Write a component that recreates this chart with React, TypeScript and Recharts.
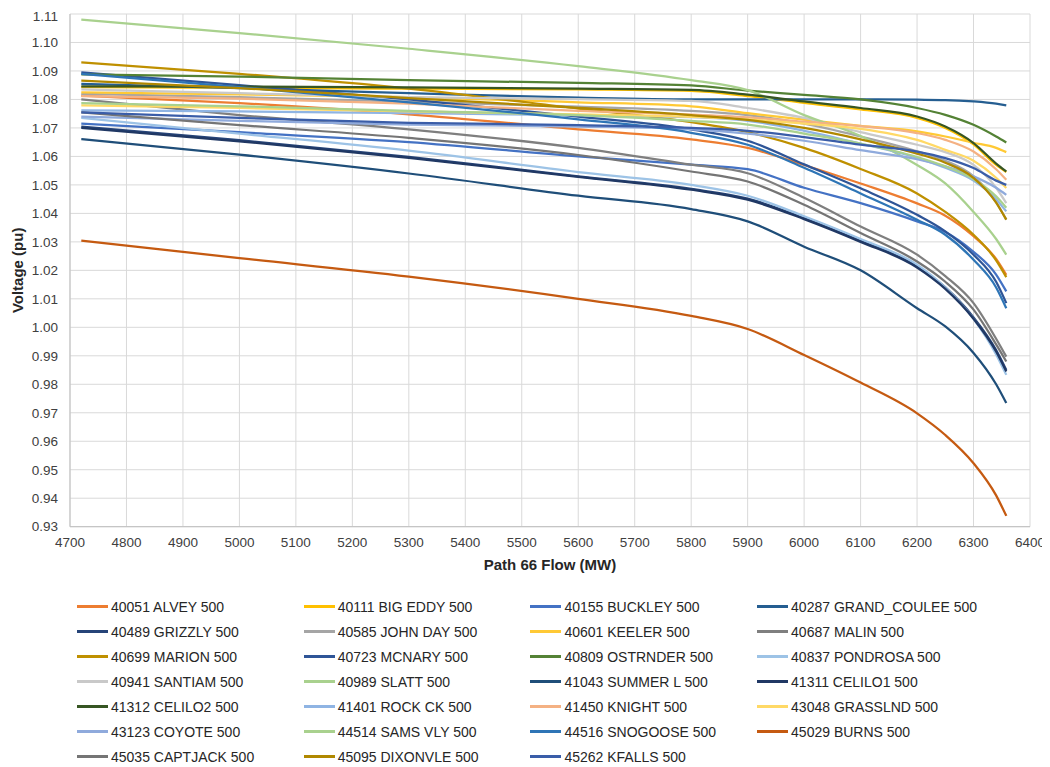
import { LineChart, Line, XAxis, YAxis, CartesianGrid } from 'recharts';

// Path 66 flow (MW) sample points
const flow = [4720, 5000, 5300, 5600, 5800, 5900, 6000, 6100, 6200, 6250, 6300, 6340, 6358];

const xTicks = [4700, 4800, 4900, 5000, 5100, 5200, 5300, 5400, 5500, 5600, 5700, 5800, 5900, 6000, 6100, 6200, 6300, 6400];
const yTicks = [0.93, 0.94, 0.95, 0.96, 0.97, 0.98, 0.99, 1.0, 1.01, 1.02, 1.03, 1.04, 1.05, 1.06, 1.07, 1.08, 1.09, 1.1, 1.11];

// bus voltages (pu)
const alvey = [1.0813, 1.0787, 1.0748, 1.0695, 1.066, 1.063, 1.057, 1.0505, 1.0435, 1.0392, 1.032, 1.024, 1.0184];
const bigEddy = [1.0843, 1.0841, 1.0838, 1.0835, 1.083, 1.0812, 1.0788, 1.0765, 1.0735, 1.07, 1.0642, 1.057, 1.0545];
const buckley = [1.0715, 1.0685, 1.065, 1.06, 1.0571, 1.0555, 1.049, 1.0436, 1.0372, 1.0335, 1.0265, 1.0185, 1.0126];
const grandCoulee = [1.0855, 1.084, 1.0822, 1.0806, 1.08, 1.08, 1.08, 1.08, 1.0799, 1.0798, 1.0793, 1.0785, 1.0779];
const grizzly = [1.0705, 1.0657, 1.0598, 1.053, 1.0486, 1.0452, 1.0384, 1.0304, 1.0214, 1.014, 1.0035, 0.992, 0.985];
const johnDay = [1.082, 1.0808, 1.0792, 1.0775, 1.076, 1.0745, 1.0715, 1.067, 1.0618, 1.0585, 1.053, 1.044, 1.0378];
const keeler = [1.0825, 1.0818, 1.0808, 1.079, 1.0776, 1.0752, 1.0729, 1.0707, 1.0688, 1.067, 1.0648, 1.063, 1.0615];
const malin = [1.08, 1.0745, 1.0695, 1.063, 1.0571, 1.0541, 1.0455, 1.0354, 1.0255, 1.018, 1.0085, 0.996, 0.9897];
const marion = [1.093, 1.089, 1.0838, 1.0768, 1.072, 1.0685, 1.063, 1.0556, 1.047, 1.0405, 1.0325, 1.0235, 1.0176];
const mcnary = [1.0895, 1.085, 1.08, 1.074, 1.0695, 1.0655, 1.0572, 1.0488, 1.0395, 1.0337, 1.0255, 1.016, 1.0085];
const ostrnder = [1.0888, 1.088, 1.0868, 1.0858, 1.0849, 1.0831, 1.0816, 1.08, 1.077, 1.0746, 1.0711, 1.067, 1.0649];
const pondrosa = [1.0735, 1.068, 1.062, 1.0545, 1.05, 1.0462, 1.039, 1.031, 1.022, 1.014, 1.003, 0.9905, 0.9833];
const santiam = [1.0835, 1.0822, 1.0808, 1.0801, 1.0795, 1.077, 1.0735, 1.0685, 1.0641, 1.0615, 1.057, 1.049, 1.0436];
const slatt = [1.108, 1.1033, 1.0978, 1.0917, 1.0868, 1.0833, 1.0745, 1.0672, 1.057, 1.0505, 1.0405, 1.031, 1.0255];
const summerL = [1.0661, 1.0606, 1.054, 1.0462, 1.0415, 1.0372, 1.0283, 1.02, 1.0067, 1.0003, 0.991, 0.98, 0.9734];
const celilo1 = [1.07, 1.0653, 1.0595, 1.0528, 1.0483, 1.0448, 1.038, 1.03, 1.021, 1.0135, 1.003, 0.9915, 0.9845];
const celilo2 = [1.0846, 1.0845, 1.0842, 1.0838, 1.0834, 1.0817, 1.0793, 1.077, 1.074, 1.0705, 1.0647, 1.0575, 1.0547];
const rockCk = [1.0762, 1.0758, 1.0752, 1.0745, 1.0738, 1.0725, 1.069, 1.0645, 1.0595, 1.056, 1.0515, 1.045, 1.0407];
const knight = [1.0812, 1.0803, 1.0785, 1.076, 1.0747, 1.0737, 1.0722, 1.0706, 1.0682, 1.0658, 1.0617, 1.0555, 1.0518];
const grasslnd = [1.0779, 1.077, 1.0758, 1.0748, 1.0739, 1.073, 1.0715, 1.0697, 1.0658, 1.0623, 1.0585, 1.0525, 1.0489];
const coyote = [1.074, 1.0725, 1.0712, 1.0705, 1.0695, 1.068, 1.0655, 1.0622, 1.059, 1.0565, 1.053, 1.049, 1.0465];
const samsVly = [1.0787, 1.0776, 1.076, 1.0745, 1.0725, 1.0712, 1.068, 1.0645, 1.0598, 1.0565, 1.052, 1.046, 1.042];
const snogoose = [1.089, 1.0843, 1.079, 1.073, 1.0683, 1.0641, 1.056, 1.047, 1.0378, 1.0325, 1.0237, 1.014, 1.0067];
const burns = [1.0304, 1.0243, 1.0178, 1.01, 1.004, 0.9994, 0.9903, 0.9806, 0.9698, 0.9622, 0.9523, 0.941, 0.9338];
const captjack = [1.0755, 1.071, 1.0665, 1.0605, 1.0547, 1.0512, 1.043, 1.0331, 1.0231, 1.016, 1.0062, 0.994, 0.988];
const dixonvle = [1.0866, 1.084, 1.0805, 1.077, 1.0745, 1.0728, 1.07, 1.066, 1.061, 1.0578, 1.0525, 1.0438, 1.0378];
const kfalls = [1.0755, 1.0735, 1.0718, 1.071, 1.07, 1.069, 1.0668, 1.0641, 1.0617, 1.0594, 1.0559, 1.0515, 1.05];

const seriesNames = [
  '40051 ALVEY 500', '40111 BIG EDDY 500', '40155 BUCKLEY 500', '40287 GRAND_COULEE 500',
  '40489 GRIZZLY 500', '40585 JOHN DAY 500', '40601 KEELER 500', '40687 MALIN 500',
  '40699 MARION 500', '40723 MCNARY 500', '40809 OSTRNDER 500', '40837 PONDROSA 500',
  '40941 SANTIAM 500', '40989 SLATT 500', '41043 SUMMER L 500', '41311 CELILO1 500',
  '41312 CELILO2 500', '41401 ROCK CK 500', '41450 KNIGHT 500', '43048 GRASSLND 500',
  '43123 COYOTE 500', '44514 SAMS VLY 500', '44516 SNOGOOSE 500', '45029 BURNS 500',
  '45035 CAPTJACK 500', '45095 DIXONVLE 500', '45262 KFALLS 500',
];

const seriesValues = [
  alvey, bigEddy, buckley, grandCoulee, grizzly, johnDay, keeler, malin, marion,
  mcnary, ostrnder, pondrosa, santiam, slatt, summerL, celilo1, celilo2, rockCk,
  knight, grasslnd, coyote, samsVly, snogoose, burns, captjack, dixonvle, kfalls,
];

const colors = [
  '#ED7D31', '#FFC000', '#4472C4', '#255E91', '#264478', '#A5A5A5', '#FFC935', '#7F7F7F',
  '#BF9000', '#2F5597', '#548235', '#9DC3E6', '#C9C9C9', '#A9D18E', '#1F4E79', '#203864',
  '#375623', '#8FB4E3', '#F4B183', '#FFD966', '#8FAADC', '#A9D18E', '#2E75B6', '#C55A11',
  '#757575', '#B08800', '#3A5DA8',
];

const data = flow.map((f, i) => {
  const row: Record<string, number> = { flow: f };
  seriesValues.forEach((vals, j) => {
    row['s' + j] = vals[i];
  });
  return row;
});

const font = '"Liberation Sans", Arial, sans-serif';
const tickStyle = { fontSize: 13.5, fill: '#404040', fontFamily: font };
const titleStyle = { fontSize: 15, fontWeight: 'bold', fill: '#262626', fontFamily: font };

export default function App() {
  return (
    <div style={{ width: 1042, fontFamily: font }}>
      <LineChart width={1040} height={580} data={data} margin={{ top: 6, right: 18, left: 0, bottom: 0 }}>
        <CartesianGrid stroke="#D9D9D9" strokeWidth={1} />
        <XAxis
          dataKey="flow"
          type="number"
          domain={[4700, 6400]}
          ticks={xTicks}
          height={61.3}
          tick={tickStyle}
          tickSize={0}
          tickMargin={11}
          axisLine={{ stroke: '#BFBFBF' }}
          tickLine={false}
          label={{ value: 'Path 66 Flow (MW)', position: 'insideBottom', offset: 18, style: titleStyle }}
        />
        <YAxis
          type="number"
          domain={[0.93, 1.11]}
          ticks={yTicks}
          width={62}
          tick={tickStyle}
          tickSize={0}
          tickMargin={12}
          tickFormatter={(v: number) => v.toFixed(2)}
          axisLine={{ stroke: '#BFBFBF' }}
          tickLine={false}
          allowDataOverflow
          label={{ value: 'Voltage (pu)', angle: -90, position: 'insideLeft', offset: 10, style: { ...titleStyle, textAnchor: 'middle' } }}
        />
        {seriesNames.map((name, j) => (
          <Line
            key={name}
            dataKey={'s' + j}
            name={name}
            type="monotone"
            stroke={colors[j]}
            strokeWidth={2.25}
            dot={false}
            isAnimationActive={false}
          />
        ))}
      </LineChart>
      <div
        style={{
          display: 'grid',
          gridTemplateColumns: 'repeat(4, 226.7px)',
          marginLeft: 69,
          marginTop: 6,
          fontSize: 14,
          color: '#262626',
        }}
      >
        {seriesNames.map((name, j) => (
          <div key={name} style={{ display: 'flex', alignItems: 'center', height: 25, whiteSpace: 'nowrap' }}>
            <span style={{ display: 'inline-block', width: 31, height: 3, background: colors[j], marginRight: 3 }} />
            <span>{name}</span>
          </div>
        ))}
      </div>
    </div>
  );
}
